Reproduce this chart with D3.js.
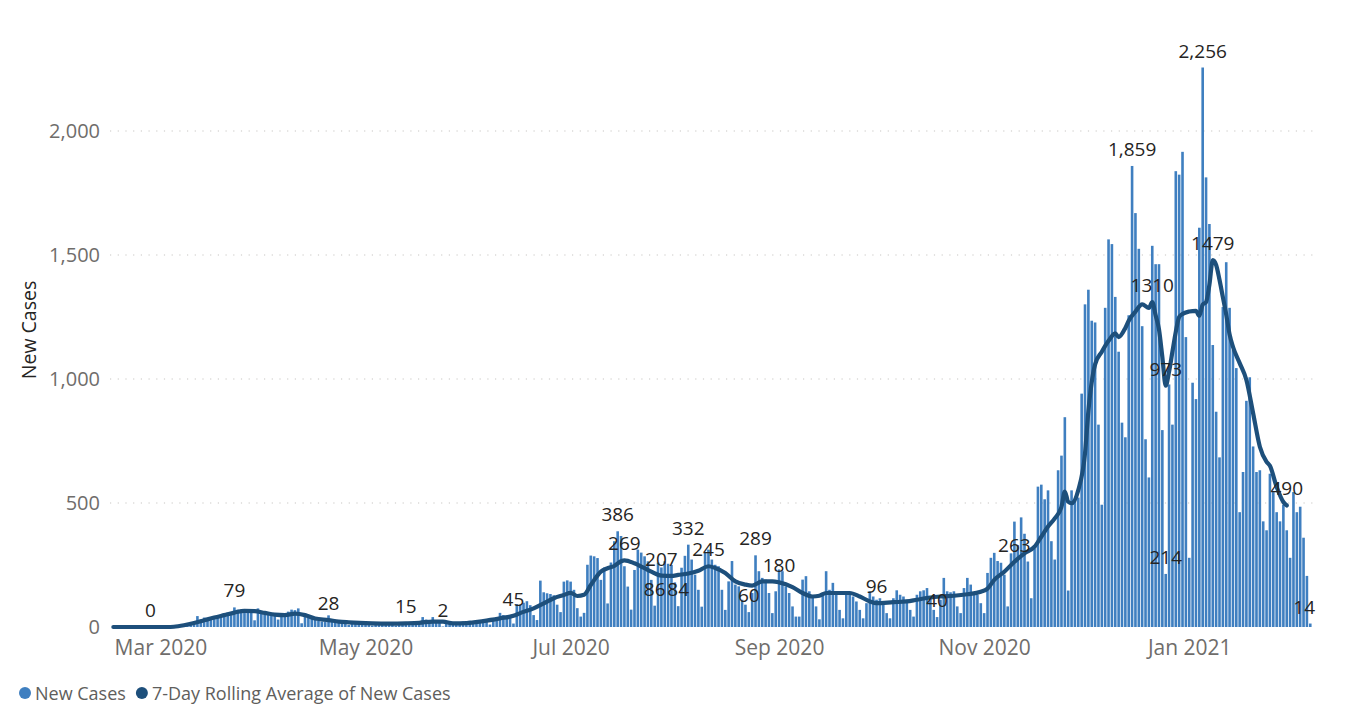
<!DOCTYPE html>
<html>
<head>
<meta charset="utf-8">
<script src="https://cdn.jsdelivr.net/npm/d3@7"></script>
<style>
  body { margin: 0; background: #fff; }
  #chart svg { display: block; font-family: "Open Sans", "Segoe UI", sans-serif; }
</style>
</head>
<body>
<div id="chart"></div>
<script>
// daily new cases, first bar is 2020-02-16
var firstDay = Date.UTC(2020, 1, 16);
var newCases = [
  0,0,0,0,0,0,0,0,0,0,0,0,0,0,
  0,0,0,1,1,2,3,
  2,6,10,18,44,30,38,
  32,40,42,47,50,55,58,
  48,79,70,65,68,62,60,
  27,75,55,50,52,48,45,
  30,50,48,62,70,68,75,
  15,55,45,40,30,25,22,
  20,47,27,20,18,15,14,
  8,20,18,15,16,12,14,
  6,15,16,14,12,15,13,
  6,16,18,14,15,14,18,
  10,40,30,28,40,25,20,
  2,22,24,15,20,18,22,
  8,25,22,20,24,28,20,
  10,30,40,57,48,45,40,
  14,92,90,98,104,88,48,
  28,187,140,136,133,128,90,
  60,183,188,183,150,76,42,
  57,251,288,285,278,190,240,
  95,260,346,386,367,245,163,
  70,230,312,300,285,265,190,
  86,260,240,265,255,250,180,
  84,239,287,332,272,211,150,
  82,299,312,272,251,245,150,
  69,184,266,171,164,110,90,
  60,137,289,225,198,191,137,
  56,144,232,225,164,137,83,
  42,42,191,205,144,123,83,
  31,137,225,150,178,137,69,
  35,144,140,123,103,69,35,
  96,144,123,110,116,89,56,
  35,116,148,130,123,110,69,
  42,130,144,148,157,123,69,
  40,110,198,144,140,144,83,
  56,157,198,171,137,130,96,
  56,218,279,299,266,259,211,
  83,297,425,330,442,376,264,
  116,317,566,574,515,551,346,
  272,632,691,846,147,551,515,
  522,941,1301,1360,1235,1228,816,
  493,1287,1563,1544,1331,1110,824,
  765,1257,1859,1669,1525,1213,757,
  603,1537,1463,1463,794,214,978,
  816,1838,1824,1916,1169,279,985,
  919,1610,2256,1813,1625,1137,868,
  684,1290,1471,1287,1118,1044,463,
  625,912,1007,728,625,632,426,
  390,618,544,463,426,493,390,
  279,544,463,485,360,206,14
];

// 7-day rolling average (day index, value)
var rollDays = [0,11,16,18,21,24,27,30,33,36,39,42,45,48,51,54,57,60,64,67,70,77,82,87,91,95,98,101,105,110,115,119,121,125,128,131,134,136,138,140,142,145,147,149,151,152,155,158,160,163,166,168,171,174,177,179,182,185,188,190,193,196,198,202,205,208,210,212,215,219,222,225,227,232,236,239,243,246,250,254,258,260,262,265,268,271,274,276,278,280,282,283,284,285,287,289,290,292,294,296,298,299,301,302,304,306,308,309,310,311,312,313,314,315,316,317,318,320,322,323,324,325,326,327,328,329,330,331,332,333,335,337,339,341,343,344,346,348,349];
var rollValues = [0,0,0,1,7,16,27,38,48,58,65,64,57,50,48,54,48,34,28,22,19,15,14,15,17,22,22,15,16,24,35,45,56,75,95,116,129,138,125,130,169,223,237,246,265,269,257,237,223,207,206,210,216,227,245,238,218,184,171,167,184,184,180,161,137,123,126,137,137,137,123,103,96,100,103,110,119,123,126,132,142,155,190,223,263,297,324,364,405,438,485,546,505,499,552,700,870,1059,1110,1154,1184,1169,1206,1235,1272,1301,1287,1310,1257,1200,1089,973,1030,1110,1190,1250,1262,1272,1275,1255,1300,1310,1380,1479,1460,1400,1330,1260,1180,1130,1064,996,862,727,666,650,565,504,490];

// which points carry a data label
var barLabelDays = [36, 98, 150, 161, 168, 171, 189, 191, 245, 303, 313, 324, 356];
var lineLabelDays = [11, 64, 87, 119, 152, 163, 177, 198, 227, 268, 309, 313, 327, 349];

var yTicks = [0, 500, 1000, 1500, 2000];
var xTickDates = ["2020-03-01", "2020-05-01", "2020-07-01", "2020-09-01", "2020-11-01", "2021-01-01"];
var xTickLabels = ["Mar 2020", "May 2020", "Jul 2020", "Sep 2020", "Nov 2020", "Jan 2021"];
var legendNames = ["New Cases", "7-Day Rolling Average of New Cases"];

var barColor = "#3f7fc0";
var lineColor = "#1d4f7b";

var svgWidth = 1349, svgHeight = 705;
var margin = { top: 131, right: 32, bottom: 78, left: 110 };
var width = svgWidth - margin.left - margin.right;
var height = svgHeight - margin.top - margin.bottom;

var svg = d3.select("#chart").append("svg")
  .attr("width", svgWidth)
  .attr("height", svgHeight);

var chartGroup = svg.append("g")
  .attr("transform", `translate(${margin.left}, ${margin.top})`);

var dayMs = 864e5;
function dayDate(i) { return new Date(firstDay + i * dayMs); }

var x = d3.scaleUtc()
  .domain([new Date(Date.UTC(2020, 1, 15)), new Date(Date.UTC(2021, 1, 8))])
  .range([0, width]);

var y = d3.scaleLinear()
  .domain([0, 2000])
  .range([height, 0]);

// dotted gridlines
chartGroup.append("g")
  .selectAll("line")
  .data(yTicks.filter(d => d > 0))
  .enter()
  .append("line")
  .attr("x1", 0)
  .attr("x2", width)
  .attr("y1", d => y(d))
  .attr("y2", d => y(d))
  .attr("stroke", "#c8c6c4")
  .attr("stroke-width", 1.2)
  .attr("stroke-dasharray", "1.2,6.5");

// y axis
var leftAxis = d3.axisLeft(y)
  .tickValues(yTicks)
  .tickFormat(d3.format(","))
  .tickSize(0)
  .tickPadding(10);

var yAxisG = chartGroup.append("g").call(leftAxis);
yAxisG.select(".domain").remove();
yAxisG.selectAll("text")
  .attr("fill", "#6f6d6b")
  .style("font-size", "20px")
  .style("font-family", "'Open Sans', sans-serif");

// x axis
var bottomAxis = d3.axisBottom(x)
  .tickValues(xTickDates.map(d => new Date(d + "T00:00:00Z")))
  .tickFormat((d, i) => xTickLabels[i])
  .tickSize(0)
  .tickPadding(13);

var xAxisG = chartGroup.append("g")
  .attr("transform", `translate(0, ${height})`)
  .call(bottomAxis);
xAxisG.select(".domain").remove();
xAxisG.selectAll("text")
  .attr("fill", "#6f6d6b")
  .style("font-size", "21px")
  .style("font-family", "'Open Sans', sans-serif");

// bars
var barW = 2.6;
chartGroup.append("g")
  .selectAll("rect")
  .data(newCases)
  .enter()
  .append("rect")
  .attr("x", (d, i) => x(dayDate(i)) - barW / 2)
  .attr("width", barW)
  .attr("y", d => y(d))
  .attr("height", d => y(0) - y(d))
  .attr("fill", barColor);

// rolling average line
var rollData = rollDays.map((d, i) => ({ day: d, value: rollValues[i] }));
var line1 = d3.line()
  .x(d => x(dayDate(d.day)))
  .y(d => y(d.value))
  .curve(d3.curveMonotoneX);

chartGroup.append("path")
  .datum(rollData)
  .attr("d", line1)
  .attr("fill", "none")
  .attr("stroke", lineColor)
  .attr("stroke-width", 4.2)
  .attr("stroke-linejoin", "round")
  .attr("stroke-linecap", "round");

// data labels
var labels = [];
barLabelDays.forEach(d => {
  labels.push({ day: d, value: newCases[d], text: d3.format(",")(newCases[d]) });
});
lineLabelDays.forEach(d => {
  var v = rollValues[rollDays.indexOf(d)];
  labels.push({ day: d, value: v, text: d3.format("d")(v) });
});

chartGroup.append("g")
  .selectAll("text")
  .data(labels)
  .enter()
  .append("text")
  .attr("x", d => x(dayDate(d.day)))
  .attr("y", d => y(d.value) - 10)
  .attr("text-anchor", "middle")
  .attr("fill", "#252423")
  .style("font-size", "19px")
  .text(d => d.text)
  .each(function() {
    // keep labels inside the plot area
    var w = this.getComputedTextLength();
    var cx = +d3.select(this).attr("x");
    if (cx + w / 2 > width - 2) d3.select(this).attr("x", width - 2 - w / 2);
  });

// y axis title
svg.append("text")
  .attr("transform", "translate(28, 330) rotate(-90)")
  .attr("text-anchor", "middle")
  .attr("dominant-baseline", "central")
  .attr("fill", "#252423")
  .style("font-size", "19.5px")
  .text("New Cases");

// legend
var legend = svg.append("g").attr("transform", "translate(0, 693)");
var lx = 25;
legendNames.forEach((name, i) => {
  legend.append("circle")
    .attr("cx", lx)
    .attr("cy", 0)
    .attr("r", 6)
    .attr("fill", i === 0 ? barColor : lineColor);
  var t = legend.append("text")
    .attr("x", lx + 10)
    .attr("y", 0)
    .attr("dominant-baseline", "central")
    .attr("fill", "#605e5c")
    .style("font-size", "18px")
    .text(name);
  lx += 10 + t.node().getComputedTextLength() + 16;
});
</script>
</body>
</html>
